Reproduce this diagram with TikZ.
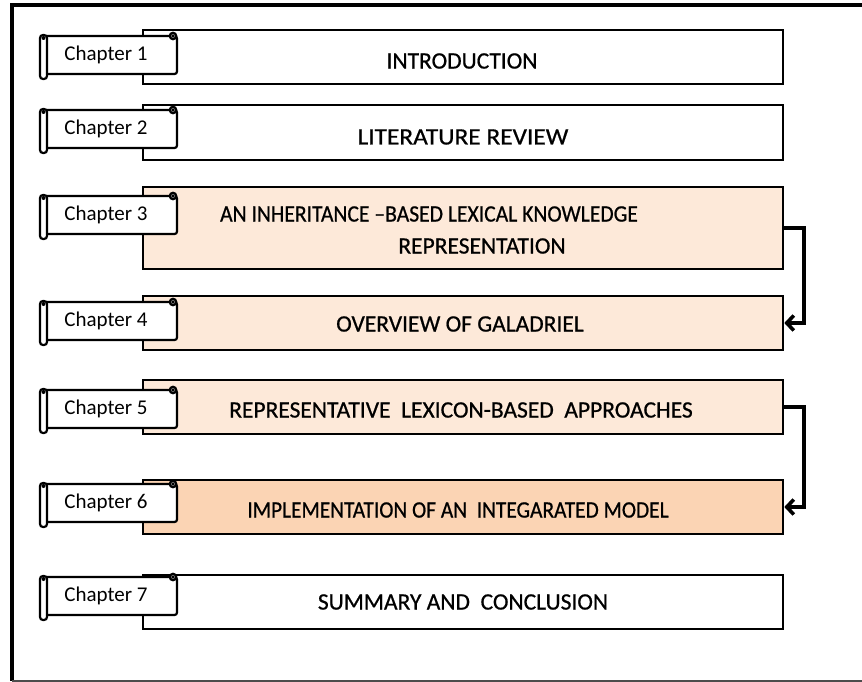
\documentclass[tikz,border=0pt]{standalone}
\usepackage{fontspec}
\usepackage{graphicx}
\setmainfont{Carlito}
\newfontfamily\titlefamily[FakeBold=0.7]{Carlito}
\usetikzlibrary{arrows.meta}

\definecolor{peach}{HTML}{FDE9D9}
\definecolor{peachdark}{HTML}{FBD4B4}

\tikzset{
  chapbox/.style={draw=black, line width=2.6pt, minimum width=640pt, inner sep=0pt},
  tabline/.style={draw=black, line width=2.2pt, fill=white},
  tabtext/.style={font=\fontsize{21}{25}\selectfont, inner sep=0pt},
  boxtext/.style={font=\titlefamily\fontsize{23.5}{28}\selectfont, inner sep=0pt},
  link/.style={line width=3.6pt, -{Straight Barb[length=7pt,width=15pt,line width=3.6pt]}},
}

% scroll-shaped chapter tab: #1 node name, #2 vertical centre, #3 label
\newcommand\chaptab[3]{%
  \draw[tabline, rounded corners=2.5pt] (44,#2-19) rectangle (177,#2+19);
  \draw[tabline] (173,#2-19) circle (3.2);
  \fill (173,#2-19) circle (1.8);
  \draw[tabline, rounded corners=3pt] (40,#2-20) rectangle (47,#2+24);
  \fill (43.5,#2-17) circle (2);
  \node[tabtext] (#1) at (106,#2) {#3};
}

\begin{document}
\begin{tikzpicture}[x=1pt, y=-1pt]
  \useasboundingbox (0,0) rectangle (862,682);

  % outer frame
  \draw[line width=4.5pt] (12,681) -- (12,5) -- (862,5);
  \draw[line width=1.4pt, black!70] (12,681) -- (862,681);

  % chapter boxes
  \node[chapbox, fill=white,     minimum height=54pt] (b1) at (463,57)    {};
  \node[chapbox, fill=white,     minimum height=55pt] (b2) at (463,132.5) {};
  \node[chapbox, fill=peach,     minimum height=82pt] (b3) at (463,228)   {};
  \node[chapbox, fill=peach,     minimum height=54pt] (b4) at (463,323)   {};
  \node[chapbox, fill=peach,     minimum height=54pt] (b5) at (463,407)   {};
  \node[chapbox, fill=peachdark, minimum height=54pt] (b6) at (463,507)   {};
  \node[chapbox, fill=white,     minimum height=54pt] (b7) at (463,602)   {};

  % box titles
  \node[boxtext] (t1)  at (462,61)  {INTRODUCTION};
  \node[boxtext] (t2)  at (463,137) {\scalebox{1.08}[1]{LITERATURE REVIEW}};
  \node[boxtext] (t3a) at (429,214) {\scalebox{0.92}[1]{AN INHERITANCE –BASED LEXICAL KNOWLEDGE}};
  \node[boxtext] (t3b) at (482,246) {REPRESENTATION};
  \node[boxtext] (t4)  at (460,324) {OVERVIEW OF GALADRIEL};
  \node[boxtext] (t5)  at (461,410) {REPRESENTATIVE\ \ LEXICON-BASED\ \ APPROACHES};
  \node[boxtext] (t6)  at (458,510) {\scalebox{0.91}[1]{IMPLEMENTATION OF AN\ \ INTEGARATED MODEL}};
  \node[boxtext] (t7)  at (463,602) {SUMMARY AND\ \ CONCLUSION};

  % chapter tabs
  \chaptab{c1}{55}{Chapter 1}
  \chaptab{c2}{129}{Chapter 2}
  \chaptab{c3}{215}{Chapter 3}
  \chaptab{c4}{321}{Chapter 4}
  \chaptab{c5}{409}{Chapter 5}
  \chaptab{c6}{503}{Chapter 6}
  \chaptab{c7}{596}{Chapter 7}

  % links between chapters
  \coordinate (r1) at (804,228);
  \coordinate (r2) at (804,407);
  \draw[link] (b3.east) -- (r1) |- (b4.east);
  \draw[link] (b5.east) -- (r2) |- (b6.east);
\end{tikzpicture}
\end{document}
